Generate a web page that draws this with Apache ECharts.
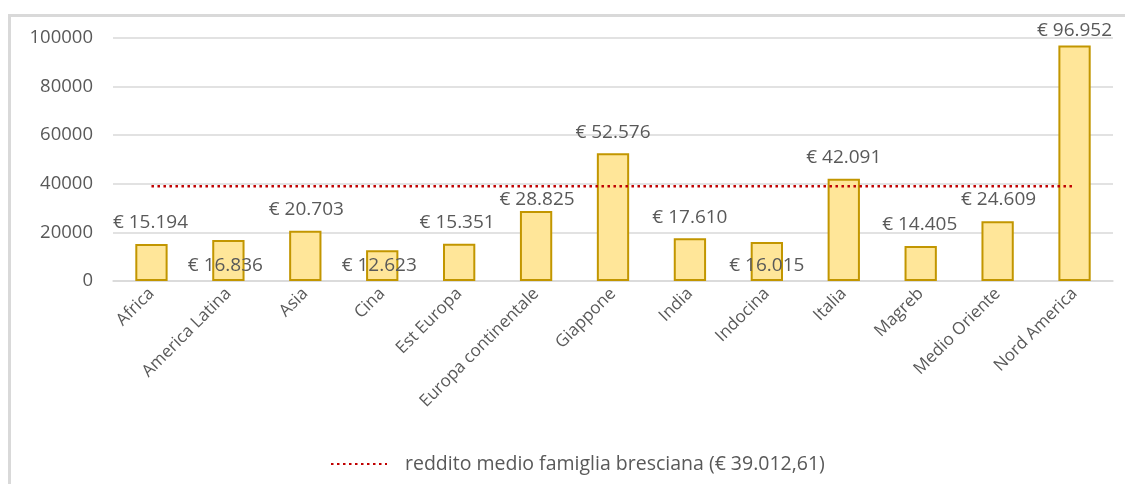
<!DOCTYPE html>
<html>
<head>
<meta charset="utf-8">
<script src="https://cdn.jsdelivr.net/npm/echarts@6/dist/echarts.min.js"></script>
<style>
html,body{margin:0;padding:0;background:#fff;}
#frame{position:absolute;left:8px;top:14px;width:1130px;height:480px;border-left:3px solid #d9d9d9;border-top:3px solid #d9d9d9;box-sizing:border-box;}
#chart{position:absolute;left:0;top:0;width:1125px;height:484px;}
</style>
</head>
<body>
<div id="frame"></div>
<div id="chart"></div>
<script>
const categories = ['Africa','America Latina','Asia','Cina','Est Europa','Europa continentale','Giappone','India','Indocina','Italia','Magreb','Medio Oriente','Nord America'];
const redditi = [15194,16836,20703,12623,15351,28825,52576,17610,16015,42091,14405,24609,96952];
const mediaBresciana = 39012.61;
const lineName = 'reddito medio famiglia bresciana (€ 39.012,61)';
const yTicks = {min:0, max:100000, interval:20000};

// label placement styling (not data)
const labelPos = ['top','insideBottom','top','insideBottom','top','top','top','top','insideBottom','top','top','top','top'];
const labelDist = [12,5.5,12,5.5,12,1.5,11,11,5.5,12,12,12,5];
const labelDx = [-1,-3,1,-3,-2,1,0,0,0,0,-1,1,0];

function fmt(v){ return '€ ' + String(Math.round(v)).replace(/\B(?=(\d{3})+(?!\d))/g,'.'); }

const barData = redditi.map((v,i)=>({
  value:v,
  label:{position:labelPos[i], distance:labelDist[i], offset:[labelDx[i],0]}
}));
const lineData = categories.map(()=>mediaBresciana);

const chart = echarts.init(document.getElementById('chart'));
const font = '"Open Sans", sans-serif';
chart.setOption({
  animation:false,
  textStyle:{fontFamily:font},
  grid:{left:113,right:12,top:38,bottom:203,containLabel:false},
  legend:{
    data:[lineName],
    top:449,
    left:325,
    itemWidth:56,
    itemHeight:12,
    itemStyle:{opacity:0},
    textStyle:{color:'#595959',fontSize:19.5,fontFamily:font,padding:[0,0,0,13]}
  },
  xAxis:{
    type:'category',
    data:categories,
    axisLine:{show:true,lineStyle:{color:'#d9d9d9',width:1.5}},
    axisTick:{show:false},
    axisLabel:{rotate:45,color:'#595959',fontSize:17,margin:10,interval:0,fontFamily:font}
  },
  yAxis:{
    type:'value',
    min:yTicks.min,max:yTicks.max,interval:yTicks.interval,
    axisLine:{show:false},axisTick:{show:false},
    axisLabel:{color:'#595959',fontSize:18.5,margin:20,fontFamily:font,formatter:v=>String(v)},
    splitLine:{lineStyle:{color:'#d9d9d9',width:1.5}}
  },
  series:[
    {
      type:'bar',
      name:'Reddito',
      data:barData,
      barWidth:'42%',
      itemStyle:{color:'#ffe699',borderColor:'#c29600',borderWidth:2},
      label:{show:true,color:'#595959',fontSize:19,fontFamily:font,formatter:p=>fmt(p.value)},
      z:2
    },
    {
      type:'line',
      name:lineName,
      data:lineData,
      symbol:'none',
      lineStyle:{color:'#c00000',width:2.5,type:[2.5,3.5]},
      itemStyle:{color:'#c00000'},
      z:3
    }
  ]
});
</script>
</body>
</html>
